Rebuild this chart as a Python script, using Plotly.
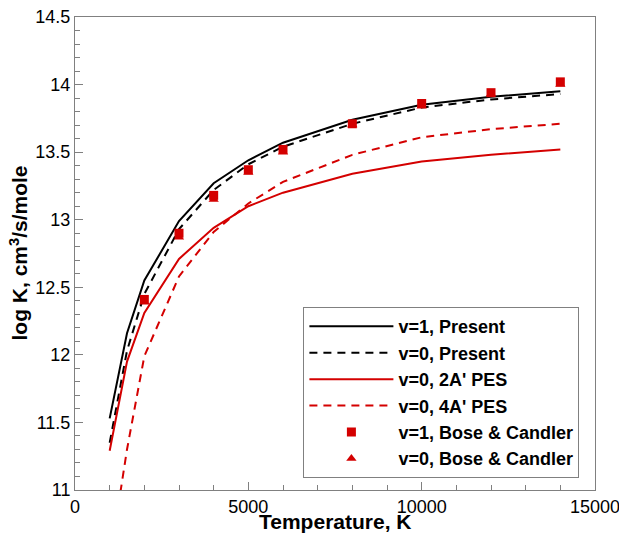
import plotly.graph_objects as go

T = [1000, 1500, 2000, 3000, 4000, 5000, 6000, 8000, 10000, 12000, 14000]
v1_present = [11.53, 12.16, 12.55, 12.99, 13.27, 13.44, 13.57, 13.74, 13.85, 13.91, 13.95]
v0_present = [11.35, 12.03, 12.45, 12.93, 13.22, 13.41, 13.54, 13.71, 13.83, 13.89, 13.93]
v0_2A = [11.29, 11.95, 12.31, 12.71, 12.94, 13.10, 13.20, 13.34, 13.43, 13.48, 13.52]
v0_4A = [10.47, 11.30, 11.99, 12.58, 12.91, 13.12, 13.28, 13.48, 13.61, 13.67, 13.71]

T_bose = [2000, 3000, 4000, 5000, 6000, 8000, 10000, 12000, 14000]
v1_bose = [12.41, 12.90, 13.18, 13.37, 13.52, 13.71, 13.86, 13.94, 14.02]
v0_bose = [12.39, 12.87, 13.15, 13.35, 13.50, 13.70, 13.84, 13.93, 14.00]

x_ticks = [0, 5000, 10000, 15000]
x_ticktext = ["0", "5000", "10000", "15000"]
y_ticks = [11, 11.5, 12, 12.5, 13, 13.5, 14, 14.5]
y_ticktext = ["11", "11.5", "12", "12.5", "13", "13.5", "14", "14.5"]

RED = "#d40000"
FONT = "Liberation Sans, Arial, sans-serif"

fig = go.Figure()
fig.add_trace(go.Scatter(x=T, y=v1_present, mode="lines", name="v=1, Present",
                         line=dict(color="black", width=2)))
fig.add_trace(go.Scatter(x=T, y=v0_present, mode="lines", name="v=0, Present",
                         line=dict(color="black", width=2, dash="8px,6px")))
fig.add_trace(go.Scatter(x=T, y=v0_2A, mode="lines", name="v=0, 2A' PES",
                         line=dict(color=RED, width=2)))
fig.add_trace(go.Scatter(x=T, y=v0_4A, mode="lines", name="v=0, 4A' PES",
                         line=dict(color=RED, width=2, dash="8px,6px")))
fig.add_trace(go.Scatter(x=T_bose, y=v0_bose, mode="markers", name="v=0, Bose & Candler",
                         marker=dict(symbol="triangle-up", size=9, color=RED), showlegend=False))
fig.add_trace(go.Scatter(x=T_bose, y=v1_bose, mode="markers", name="v=1, Bose & Candler",
                         marker=dict(symbol="square", size=9, color=RED)))
fig.add_trace(go.Scatter(x=[None], y=[None], mode="markers", name="v=0, Bose & Candler",
                         marker=dict(symbol="triangle-up", size=9, color=RED)))

axis_common = dict(
    showline=True, mirror=True, linecolor="#808080", linewidth=1,
    ticks="inside", ticklen=8, tickcolor="#808080", tickwidth=1,
    showgrid=False, zeroline=False, automargin=False,
    ticklabeloverflow="allow",
    tickfont=dict(family=FONT, size=18, color="black"),
)

fig.update_xaxes(range=[0, 15000], tickvals=x_ticks, ticktext=x_ticktext,
                 minor=dict(dtick=1000, ticks="inside", ticklen=5, tickcolor="#808080", showgrid=False),
                 **axis_common)
fig.update_yaxes(range=[11, 14.5], tickvals=y_ticks, ticktext=y_ticktext,
                 minor=dict(dtick=0.1, ticks="inside", ticklen=5, tickcolor="#808080", showgrid=False),
                 **axis_common)

fig.add_annotation(text="<b>Temperature, K</b>", xref="paper", yref="paper", x=0.5, y=0,
                   xanchor="center", yanchor="bottom", yshift=-45, showarrow=False,
                   font=dict(family=FONT, size=21, color="black"))
fig.add_annotation(text="<b>log K, cm<sup>3</sup>/s/mole</b>", xref="paper", yref="paper", x=0, y=0.5,
                   xanchor="center", yanchor="middle", xshift=-57, yshift=0, textangle=-90, showarrow=False,
                   font=dict(family=FONT, size=21, color="black"))

fig.update_layout(
    width=619, height=533,
    margin=dict(l=75, r=24, t=17, b=43),
    plot_bgcolor="white", paper_bgcolor="white",
    legend=dict(x=0.97, y=0.025, xanchor="right", yanchor="bottom",
                bgcolor="white", bordercolor="#808080", borderwidth=1,
                font=dict(family=FONT, size=18, color="black", weight="bold"),
                itemwidth=84, tracegroupgap=0),
)

fig.write_html("out.html")
